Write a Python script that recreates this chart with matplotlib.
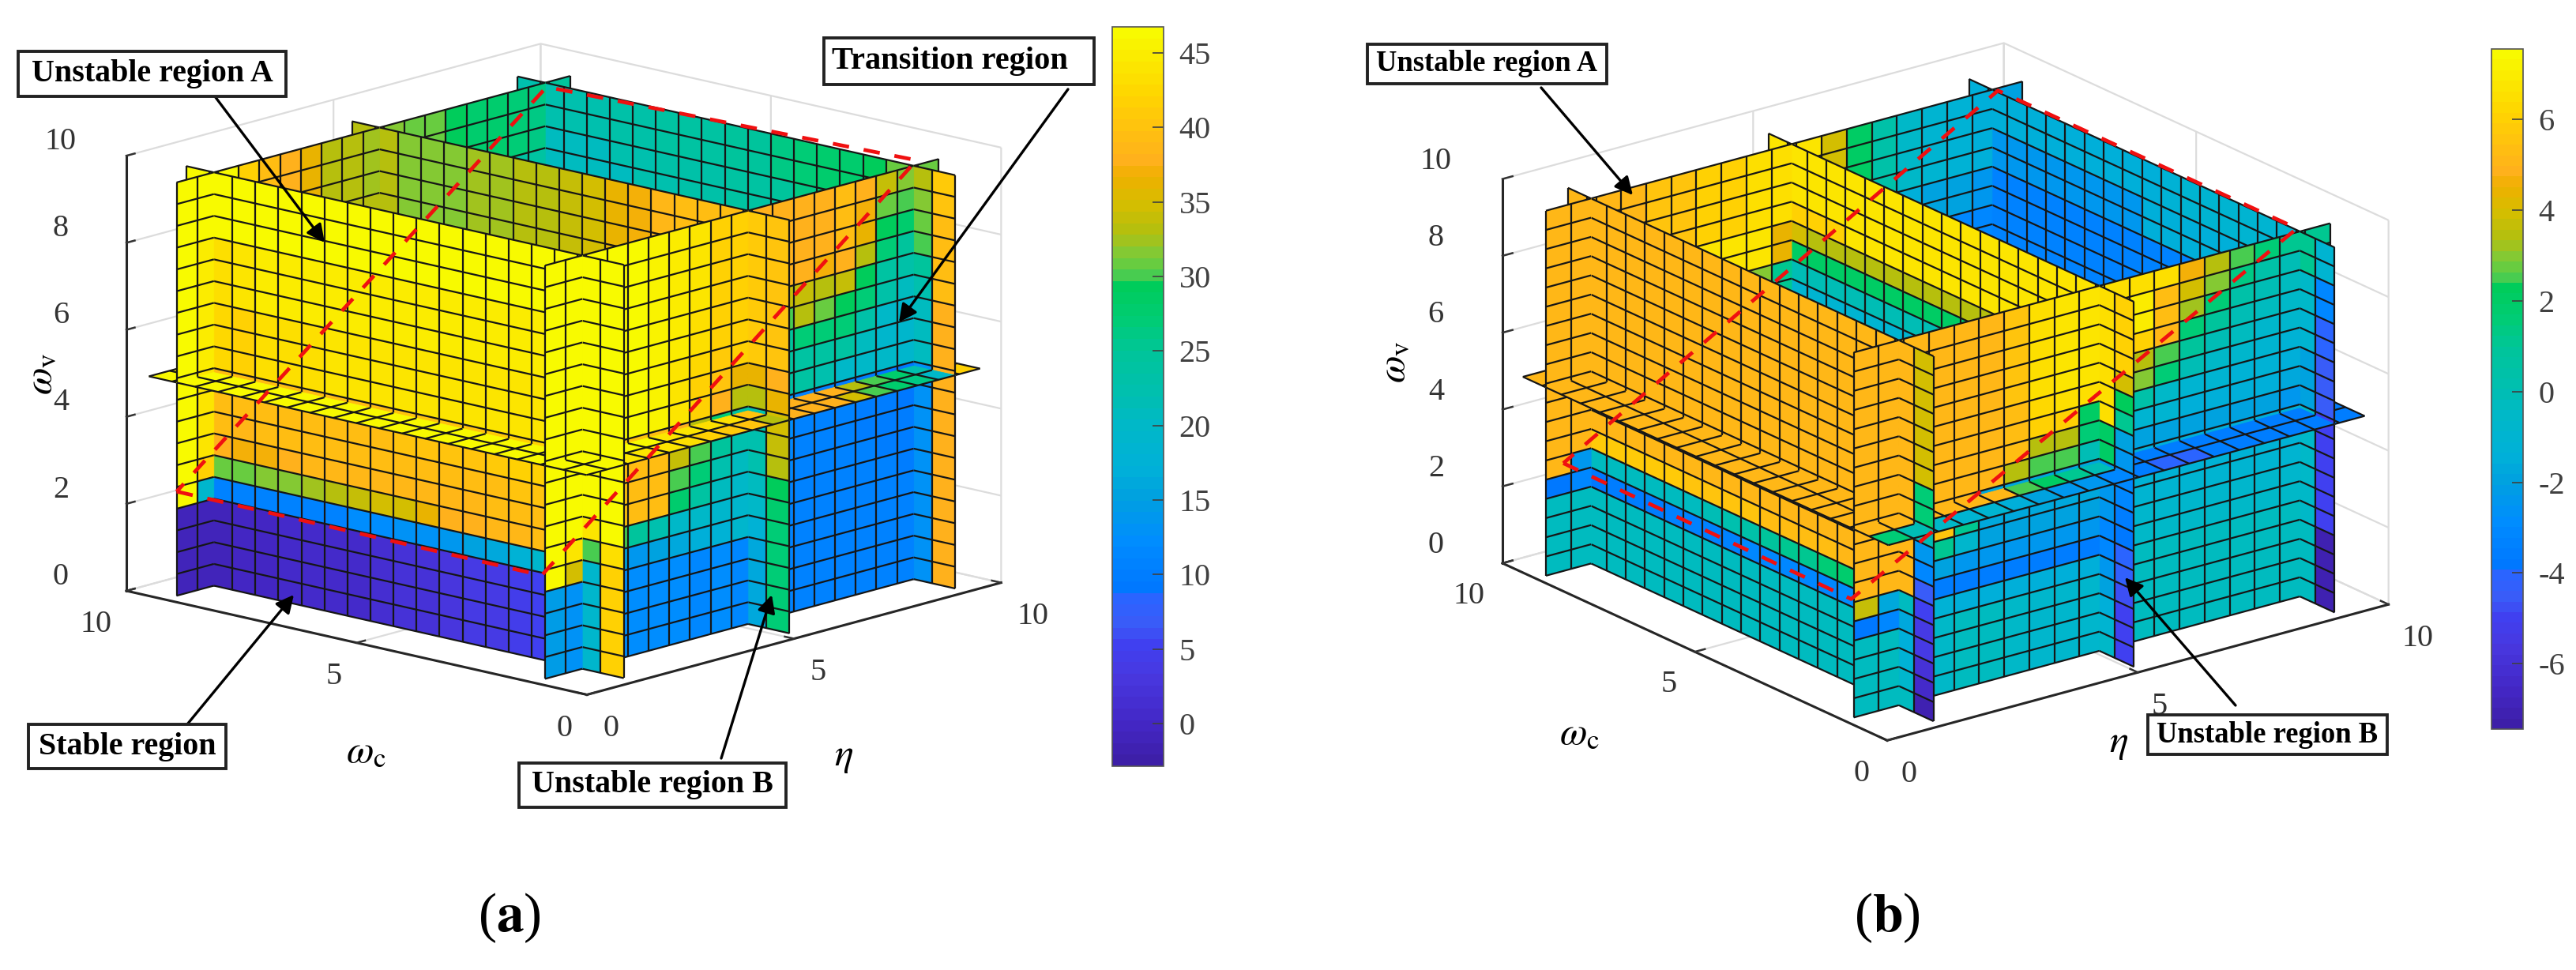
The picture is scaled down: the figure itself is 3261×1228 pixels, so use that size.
import numpy as np
import matplotlib
matplotlib.use('Agg')
import matplotlib.pyplot as plt
from matplotlib.cm import ScalarMappable
from matplotlib.colors import LinearSegmentedColormap, Normalize
from matplotlib.patches import FancyArrowPatch, Rectangle
from mpl_toolkits.mplot3d import proj3d
from mpl_toolkits.mplot3d.art3d import Poly3DCollection, Line3DCollection

plt.rcParams['font.family'] = ['Liberation Serif', 'DejaVu Serif']
plt.rcParams['mathtext.fontset'] = 'stix'

W, H = 3262, 1228

# grid of the slices and the plane positions
GRID = [0.1 + 0.5 * k for k in range(20)]
ETA_PLANES = [1, 5, 9]
WC_PLANES = [1, 9]
WV_PLANE = 5

# colour bar: value, colour
BAR_VALUES = [-2.85, 0, 3, 5, 6.5, 8.25, 8.3, 9, 12, 15, 17, 20, 22, 25, 27, 29.9, 30, 30.2,
              31, 32, 33, 35, 37, 38, 40, 42.5, 46.74]
BAR_COLORS = ['#3d1fa8', '#4428c8', '#4838e0', '#4040f0', '#3a5cf8', '#2a64ff', '#0078ff', '#0078ff',
              '#008cff', '#00a0e0', '#00b0d8', '#00b8c8', '#00bfb0', '#00c59a', '#00cc77', '#00cc55',
              '#48cc50', '#48cc50', '#68cc40', '#8cc830', '#b0bf10', '#d4be00', '#f0b000', '#ffb01c',
              '#ffc010', '#ffd500', '#f8fa00']

# panel (a): rows are omega_v cells from the bottom, columns the other axis
A_ETA1 = [[42, 19, 6.5, 5.5, 4.5, 4, 3.5, 3, 2.5, 2, 1.5, 1, 1, .5, .5, 0, 0, -1, -1]] * 4 + [
    [42, 19, 20, 19, 18, 16, 15, 14, 13, 13, 12, 12, 11, 11, 11, 11, 11, 11, 11],
    [43, 30, 39, 39, 38.5, 38.5, 38, 37.5, 36, 35, 34.5, 34, 33, 32.5, 32, 31.5, 31, 31, 31],
    [46, 44, 40, 39.5, 39, 39, 38.5, 38.5, 38.5, 38.5, 38.5, 38.5, 38.5, 38.5, 38, 37, 37, 38, 40],
    [46, 46, 41, 40.5, 40, 39.5, 39, 39, 39, 39, 39, 39, 39, 39, 39, 39, 38.5, 39, 41]] + [
    [46, 46, 42, 42, 41.5, 41, 40.5, 40, 40, 40, 39.5, 39.5, 39, 39, 39, 39, 39, 39, 41]] * 2 + [
    [46, 46, 44, 44, 44, 44, 44, 44, 44, 44, 44, 44, 44, 43.5, 43.5, 43, 42, 42.5, 42.5]] * 3 + [
    [46, 46, 46, 45, 45, 45, 45, 45, 45, 45, 45, 45, 45, 45, 45, 44.5, 44, 43.5, 44]] * 3 + [
    [46] * 19] * 3
A_ETA5 = [[27, 16] + [20] * 17] * 4 + [
    [27, 18] + [20] * 17,
    [28, 20] + [20] * 17,
    [29, 21] + [20] * 17,
    [33, 22] + [20] * 17,
    [34, 22] + [20] * 17,
    [35, 22] + [20] * 17,
    [36, 33] + [20] * 17,
    [38, 36] + [20] * 17,
    [40, 41] + [30] * 17,
    [40, 41, 39, 39, 39, 38, 36, 35, 34, 33, 33, 32, 32, 31, 30.5, 30.5, 31, 32, 33],
    [40, 41, 39, 39, 39, 38, 36, 35, 34, 33.5, 33, 32.5, 32.5, 32, 31, 31, 32, 32.5, 33]] + [
    [40, 41, 39, 39, 39, 38.5, 37, 36, 35, 34, 33.5, 33, 32.5, 32.5, 32, 32, 32, 33, 33.5]] * 4
A_ETA9 = [[38, 13] + [20] * 17] * 10 + [[38, 21] + [20] * 17] * 3 + [
    [39, 22, 29, 28, 27, 26, 25, 24, 24, 23, 23, 22, 22, 21, 21, 20, 20, 20, 20],
    [39, 25, 29, 28, 27, 26, 25, 24, 24, 23, 23, 22, 22, 21, 21, 20, 20, 20, 20],
    [39, 30, 30, 29, 28, 27, 26, 25, 24, 24, 23, 23, 22, 22, 21, 21, 21, 21, 21],
    [39, 30.5, 30, 29, 28, 27, 26, 25, 24, 24, 23, 23, 23, 22, 22, 21, 21, 21, 21],
    [40, 32, 31, 29, 28, 28, 27, 26, 25, 25, 24, 24, 24, 23, 23, 22, 22, 22, 22],
    [41, 33, 31, 29, 28, 28, 27, 26, 25, 25, 24, 24, 24, 23, 23, 22, 22, 22, 22]]
A_WC1 = [[14.5, 13, 12, 12, 12.5, 12, 12, 11.5, 12, 11.5, 11, 11, 10.5, 10.5, 10.5, 10.5, 10.5, 10.5, 13]] * 4 + [
    [46, 35, 15, 15, 14, 15, 16, 17, 18, 19, 12, 11, 11, 10.5, 10.5, 10.5, 10.5, 10.5, 13],
    [46, 44, 30, 30, 25, 22, 20, 20, 19, 19, 12, 11, 11, 10.5, 10.5, 10.5, 10.5, 10, 13],
    [46, 46, 39, 40, 39, 39, 28, 24, 21, 20, 13, 11.5, 11, 10.5, 10.5, 10.5, 10, 10, 13],
    [46, 46, 39, 40, 39, 39, 30, 27, 22, 21, 13, 11.5, 11, 10.5, 10.5, 10, 10, 10, 13],
    [46, 46, 40, 40, 39, 39, 34, 30, 25, 22, 14, 12, 11, 10.5, 10.5, 10, 10, 9.5, 13],
    [46, 46, 42, 41, 40, 39, 38, 33, 27, 24, 15, 12, 11, 10.5, 10, 10, 9.5, 9.5, 13],
    [46, 46, 46, 46, 46, 45.5, 44, 42, 38, 33, 34, 24, 24, 22, 20, 20, 20, 19, 20],
    [46, 46, 46, 46, 46, 45.5, 44, 42, 40, 36, 35, 24, 24, 24, 24, 21, 19, 19, 20],
    [46, 46, 46, 46, 46, 45.5, 44, 42.5, 41, 42, 38, 25, 27, 27, 27, 23, 20, 19, 20],
    [46, 46, 46, 46, 46, 45.5, 44.5, 43, 41.5, 42, 38, 30, 33, 31, 29, 27, 23, 21, 20],
    [46, 46, 46, 46, 46, 45.5, 44.5, 43, 42, 42, 38, 34, 34, 33, 34, 29, 24, 23, 22],
    [46, 46, 46, 46, 46, 45.5, 45, 44, 42, 42, 38, 38, 38, 37, 38, 33, 27, 25, 24],
    [46, 46, 46, 46, 46, 45.5, 45, 44, 42, 42, 38, 38, 38, 38, 39, 36, 29, 28, 27],
    [46, 46, 46, 46, 46, 45.5, 45, 44, 42, 42, 38, 38, 38, 38, 39, 37, 31, 30, 29],
    [46, 46, 46, 46, 46, 45.5, 45, 44, 42, 42, 38, 38, 38, 38, 39, 38, 34, 32, 31]]
A_WC9 = [[-1, -1] + [0] * 17] * 4 + [
    [46, 19] + [20] * 17,
    [46, 42] + [30] * 17] + [
    [46, 44] + [33] * 17] * 4 + [
    [46, 45, 44, 41, 39, 38, 36, 33, 33, 32, 30, 28, 26, 25, 24, 24, 23, 23, 23]] * 4 + [
    [46, 45, 45, 42, 39, 39, 36, 33, 33, 33, 32, 30, 29, 27, 26, 25, 24, 24, 24]] * 2 + [
    [46, 46, 46, 42, 39, 37.5, 36, 33.5, 33, 32.5, 32, 31, 31, 29, 28, 27.5, 27, 26, 25]] * 3
A_WV5 = [
    [46, 46, 44, 44, 44, 43, 42, 41, 40, 33, 38, 38, 38, 35, 30, 28, 26, 20, 42],
    [46, 46, 46, 46, 46, 44, 44, 43, 43, 40, 38, 38, 38, 38, 33, 30, 28, 22, 42]] + [
    [46, 46, 44, 44, 44, 44, 44, 44, 44, 44, 44, 44, 44, 44, 44, 44, 44, 44, 41]] * 17

# panel (b)
B_ETA1 = [
    [-7, -.4] + [-.3] * 17,
    [-6.5, -.8] + [-.3] * 17,
    [-6, -1.2] + [-.3] * 17,
    [-5.5, -1.5] + [-.3] * 17,
    [-5.5, -1.8, -2.6, -2.8, -2.8, -3, -3, -3, -3.2, -3.2, -3.3, -3.3, -3.4, -3.4, -3.5, -3.5, -3.6, -3.7, -3.7],
    [-5, -.3, 2, 2, 1.8, 1.5, 1.2, 1, .8, .5, .2, 0, -.2, -.3, -.3, -.3, -.3, -.3, -.3],
    [-4.5, 5, 5.2, 5.2, 5.2, 5.3, 5.3, 5.4, 5.4, 5.5, 5.5, 5.6, 5.6, 5.7, 5.7, 5.8, 5.8, 5.9, 5.9],
    [-3, 5] + [5] * 17,
    [-2.5, 5] + [5] * 17,
    [0, 5] + [5] * 17,
    [1.5, 5] + [5] * 17,
    [1.5, 5] + [5] * 17] + [
    [4, 5] + [5] * 17] * 7
B_ETA5 = [
    [-5, -.5] + [-1] * 17,
    [-5, -1] + [-1] * 17,
    [-5, -1.5] + [-1] * 17,
    [-4.7, -2] + [-1] * 17,
    [-4.3, -2.5] + [-1] * 17,
    [-4, -3] + [-1] * 17,
    [-3.8, -3] + [-1] * 17,
    [-3.5, -2.5] + [-1] * 17,
    [-3.2, -2.5] + [-1] * 17,
    [-3, -2.5] + [-1] * 17,
    [-2.5, 2] + [-1] * 17,
    [-2, 2] + [-1] * 17,
    [1, 6.5] + [0] * 17,
    [2.3, 6.5] + [2] * 17,
    [4, 6.5] + [3.5] * 15 + [4, 4],
    [6, 6.5] + [6.8] * 13 + [6] * 4] + [
    [6, 6.5] + [6.8] * 17] * 3
B_ETA9 = [[-7, -.3] + [-3.3] * 17] * 4 + [[-5, -.5] + [-3.3] * 17] * 6 + [
    [-4.5, -2] + [-3.3] * 17] * 3 + [
    [-4, -1] + [-3.3] * 17] * 2 + [
    [-3, -.5] + [-1.5] * 8 + [-2.5] * 9] * 2 + [
    [-1, 1, -1, -1, -1, -1, -1, -1, -1.2, -1.5, -1.5, -1.5, -1.5, -1.5, -1.5, -1.5, -1.5, -1.5, -1.5]] * 2
B_WC1 = [[-.3, -.3, -.5, -.5, -.3, -.4, -.6, -.8, -.8, -.8, -.3, -.3, -.3, -.3, -.3, -.3, -.3, -.3, -.3]] * 4 + [
    [-3.7, -3, -2, -1.2, -1.5, -1.5, -1.5, -1.5, -1.5, -1.5, -.3, -.3, -.3, -.3, -.3, -.3, -.3, -.3, -.3],
    [3.8, -1.7, -2, -3.5, -3.5, -3.5, -3.5, -3.5, -3.5, -3.5, -.5, -.5, -.5, -.5, -.5, -.5, -.5, -.5, -.5],
    [5, 5, 5, -2, -2.5, -2.5, -2.5, -2.5, -2.5, -2.5, -.7, -.7, -.7, -.7, -.7, -.7, -.7, -.7, -.7],
    [5, 5, 5, 1.2, -.8, -2, -2, -2, -2, -2, -1, -1, -1, -1, -1, -1, -1, -1, -1],
    [5, 5, 5, 5.5, 1, -1.8, -1.8, -1.8, -1.8, -1.8, -1.2, -1.2, -1.2, -1.2, -1.2, -1.2, -1.2, -1.2, -1.2],
    [5, 5, 5, 5, 5, -1.8, -1.8, -1.8, -1.8, -1.8, -1.5, -1.5, -1.5, -1.5, -1.5, -1.5, -1.5, -1.5, -1.5],
    [5, 5, 5, 5, 5, 5, 3.5, 2.5, 2.5, 0, -2, -2, -2, -2, -2, -2, -2, -2.5, -2.5],
    [5, 5, 5, 5, 5, 5, 5.3, 3.5, 3.5, 1.5, -1, -1, -1, -1.5, -1.5, -1.5, -1.5, -1.7, -2],
    [5, 5, 5, 5, 5, 5, 5.3, 6, 6, 2, .5, .5, -.5, -1, -1, -1.2, -1.3, -1.5, -2],
    [5, 5, 5, 5, 5, 5, 5.3, 6.3, 6.5, 6.5, 3, 3, 1.5, 0, -.5, -.8, -1, -1.2, -1.5],
    [5, 5, 5, 5, 5, 5, 5.5, 6.5, 6.7, 6.7, 3.5, 3.5, 2.5, .8, 0, -.3, -.7, -.8, -1],
    [5, 5, 5, 5, 5, 5, 5.6, 6.5, 6.8, 6.8, 6, 6, 5, 1.5, .8, 0, -.3, -.5, -.5],
    [5, 5, 5, 5, 5, 5, 5.6, 6.5, 6.8, 6.8, 7, 7, 5.3, 3.3, 1.5, .5, 0, -.2, -.2],
    [5, 5, 5, 5, 5, 5, 5.6, 6.5, 6.8, 6.8, 7, 7, 5.3, 4, 3, 1.3, .5, 0, 0],
    [5, 5, 5, 5, 5, 5, 5.6, 6.5, 6.8, 6.8, 6.5, 6.5, 6.5, 4.7, 3.5, 2.5, 1.5, 1, 1]]
B_WC9 = [[-.3, -.3] + [-1] * 17] * 4 + [
    [-3.7, -3] + [-1] * 17,
    [5, -2.5] + [-1] * 17] + [
    [5, 5] + [5] * 4 + [-1] * 13] * 4 + [
    [5, 5, 5, 5.3, 6.5, 6.8, 6.8, 5, 3, 1, -.5, -3, -3, -3, -3, -3, -3, -3, -3]] * 3 + [
    [5, 5, 5, 5.3, 6.5, 6.8, 6.8, 6.8, 6.8, 4.5, 3, 1.5, .5, -.5, -1.5, -2, -2, -2.5, -2.5]] * 2 + [
    [5, 5, 5, 5, 5.5, 5.5, 6, 6, 6.5, 6.5, 6.8, 4, 2, .5, -.5, -1, -1.2, -1.5, -2]] * 4
B_WV5 = [
    [1.5, 0, -.5, -1, -1, -1.5, -2, -2.5, -2.5, -3, -3.5, -4, -4, -3.5, -3.5, -3.5, -3.5, -3.5, -3.5],
    [5, 5, 5, 5, 5, 5, 2.5, 2, 1, 0, -3.5, -3.5, -3.5, -3.5, -3.5, -3.5, -3.5, -3.5, -3.5]] + [
    [5, 5, 5, 5, 5, 5, 5, 5, 5, 5, -3.5, -3.5, -3.5, -3.5, -3.5, -3.5, -3.5, -3.5, -3.5]] * 17

# red dashed boundary: eta, omega_c, omega_v
A_RED_ETA = [.77, .02, 9.07, 9.7, .77]
A_RED_WC = [9.6, 1, 1, 9.6, 9.6]
A_RED_WV = [2.18, 2.5, 9.71, 9.18, 2.18]
B_RED_ETA = [.83, .05, 8.94, 9.5, .83]
B_RED_WC = [9.5, 1, 1, 9.5, 9.5]
B_RED_WV = [2.54, 3.2, 9.7, 9.17, 2.54]

A_LIMITS = (-2.85, 46.74)
B_LIMITS = (-7.44, 7.55)
A_TICKS = [0, 5, 10, 15, 20, 25, 30, 35, 40, 45]
B_TICKS = [-6, -4, -2, 0, 2, 4, 6]
XY_TICKS = [0, 5, 10]
Z_TICKS = [0, 2, 4, 6, 8, 10]

fracs = [(v - BAR_VALUES[0]) / (BAR_VALUES[-1] - BAR_VALUES[0]) for v in BAR_VALUES]
cmap = LinearSegmentedColormap.from_list('bar', list(zip(fracs, BAR_COLORS)), N=64)


def fx(px):
    return px / W


def fy(py):
    return 1 - py / H


def wall(ax, axis, pos, vals, u_rng, v_rng, norm, zo):
    # one flat piece of a slice, cut to the range between the other planes
    def xyz(u, v):
        if axis == 'x':
            return (pos, u, v)
        if axis == 'y':
            return (u, pos, v)
        return (u, v, pos)

    polys, colors = [], []
    for j in range(len(GRID) - 1):
        v0, v1 = max(GRID[j], v_rng[0]), min(GRID[j + 1], v_rng[1])
        if v1 <= v0:
            continue
        for i in range(len(GRID) - 1):
            u0, u1 = max(GRID[i], u_rng[0]), min(GRID[i + 1], u_rng[1])
            if u1 <= u0:
                continue
            polys.append([xyz(u0, v0), xyz(u1, v0), xyz(u1, v1), xyz(u0, v1)])
            colors.append(cmap(norm(vals[j][i])))
    segs = []
    for g in GRID:
        if u_rng[0] <= g <= u_rng[1]:
            segs.append([xyz(g, v_rng[0]), xyz(g, v_rng[1])])
        if v_rng[0] <= g <= v_rng[1]:
            segs.append([xyz(u_rng[0], g), xyz(u_rng[1], g)])
    ax.add_collection3d(Poly3DCollection(polys, facecolors=colors, edgecolors=colors,
                                         linewidths=0.3, zorder=zo))
    if segs:
        ax.add_collection3d(Line3DCollection(segs, colors='#161616', linewidths=0.8, zorder=zo + 0.5))


def draw_slices(ax, planes, limits):
    norm = Normalize(*limits)
    lo, hi = GRID[0], GRID[-1]
    xs = [lo] + ETA_PLANES + [hi]
    ys = [lo] + WC_PLANES + [hi]
    zs = [lo, WV_PLANE, hi]
    zo = 10
    # blocks from far to near, each block paints its three far walls
    for ix in reversed(range(len(xs) - 1)):
        for iy in reversed(range(len(ys) - 1)):
            for iz in range(len(zs) - 1):
                x_rng, y_rng, z_rng = xs[ix:ix + 2], ys[iy:iy + 2], zs[iz:iz + 2]
                if ix < len(ETA_PLANES):
                    wall(ax, 'x', xs[ix + 1], planes['eta'][ix], y_rng, z_rng, norm, zo)
                    zo += 1
                if iy < len(WC_PLANES):
                    wall(ax, 'y', ys[iy + 1], planes['wc'][iy], x_rng, z_rng, norm, zo)
                    zo += 1
                if iz == 1:
                    wall(ax, 'z', WV_PLANE, planes['wv'], x_rng, y_rng, norm, zo)
                    zo += 1


def corner_px(ax, x, y, z):
    vx, vy, _ = proj3d.proj_transform(x, y, z, ax.get_proj())
    return ax.transData.transform((vx, vy))


def place(ax, left_px, front_px):
    # size and shift the square 3d axes so two box corners land on the wanted pixels
    size = 1200.0
    ax.set_position([0.1, 0.1, size / W, size / H])
    ax.apply_aspect()
    p0, p1 = corner_px(ax, 0, 10, 0), corner_px(ax, 0, 0, 0)
    size *= (front_px[0] - left_px[0]) / (p1[0] - p0[0])
    ax.set_position([0.1, 0.1, size / W, size / H])
    ax.apply_aspect()
    p0 = corner_px(ax, 0, 10, 0)
    ax.set_position([0.1 + (left_px[0] - p0[0]) / W, 0.1 + (H - left_px[1] - p0[1]) / H, size / W, size / H])
    ax.apply_aspect()


def style_axes(ax, pads):
    ax.set_xlim(0, 10)
    ax.set_ylim(0, 10)
    ax.set_zlim(0, 10)
    ax.set_xticks(XY_TICKS)
    ax.set_yticks(XY_TICKS)
    ax.set_zticks(Z_TICKS)
    ax.patch.set_alpha(0)
    for name, axis, pad in zip('xyz', (ax.xaxis, ax.yaxis, ax.zaxis), pads):
        axis.set_pane_color((1, 1, 1, 0))
        axis.pane.set_edgecolor('#dcdcdc')
        axis.line.set_color('#262626')
        axis.line.set_linewidth(1.1)
        axis._axinfo['grid'].update(color='#dcdcdc', linewidth=0.8)
        axis._axinfo['tick'].update(inward_factor=0.0, outward_factor=0.25)
        axis._axinfo['tick']['linewidth'] = {True: 0.9, False: 0.9}
        ax.tick_params(axis=name, labelsize=14.5, pad=pad, colors='#333333')
    ax.zaxis.set_ticks_position('upper')
    # eta numbers sit right of their ticks, omega_c numbers left
    plt.setp(ax.get_xticklabels(), ha='left')
    plt.setp(ax.get_yticklabels(), ha='right')
    plt.setp(ax.get_zticklabels(), va='bottom')


def colorbar(fig, box, limits, ticks):
    left, top, right, bottom = box
    cax = fig.add_axes([fx(left), fy(bottom), fx(right - left), (bottom - top) / H])
    sm = ScalarMappable(norm=Normalize(*limits), cmap=cmap)
    cb = fig.colorbar(sm, cax=cax, ticks=ticks)
    cb.ax.tick_params(direction='in', length=5, width=0.6, labelsize=14.5, colors='#404040', pad=7)
    cb.outline.set_linewidth(0.6)
    cb.outline.set_edgecolor('#555555')
    cb.ax.set_yticklabels([str(t) for t in ticks])


def callout(fig, label, box, size, start, end, shift=0):
    left, top, right, bottom = box
    fig.add_artist(FancyArrowPatch((fx(start[0]), fy(start[1])), (fx(end[0]), fy(end[1])),
                                   transform=fig.transFigure, arrowstyle='-|>', mutation_scale=17,
                                   color='black', linewidth=1.2, shrinkA=0, shrinkB=0, zorder=28))
    fig.add_artist(Rectangle((fx(left), fy(bottom)), (right - left) / W, (bottom - top) / H,
                             transform=fig.transFigure, facecolor='white', edgecolor='#222222',
                             linewidth=1.4, zorder=29))
    fig.text(fx((left + right) / 2 + shift), fy((top + bottom) / 2), label, fontsize=size, fontweight='bold',
             ha='center', va='center', color='black', zorder=30)


fig = plt.figure(figsize=(W / 200, H / 200), dpi=200)

ax_a = fig.add_axes([0.05, 0.1, 0.4, 0.8], projection='3d', computed_zorder=False)
ax_a.set_proj_type('ortho')
ax_a.view_init(elev=14.3, azim=-137.6)
ax_a.set_box_aspect((0.985, 1, 0.72))
draw_slices(ax_a, {'eta': [A_ETA1, A_ETA5, A_ETA9], 'wc': [A_WC1, A_WC9], 'wv': A_WV5}, A_LIMITS)
ax_a.plot(A_RED_ETA, A_RED_WC, A_RED_WV, color='#f01010', linewidth=1.7, dashes=(4.4, 4), zorder=1000)
style_axes(ax_a, (0, 0, 9))
place(ax_a, (160, 748), (743, 880))

ax_b = fig.add_axes([0.55, 0.1, 0.4, 0.8], projection='3d', computed_zorder=False)
ax_b.set_proj_type('ortho')
ax_b.view_init(elev=20.7, azim=-127.5)
ax_b.set_box_aspect((1, 1, 0.65))
draw_slices(ax_b, {'eta': [B_ETA1, B_ETA5, B_ETA9], 'wc': [B_WC1, B_WC9], 'wv': B_WV5}, B_LIMITS)
ax_b.plot(B_RED_ETA, B_RED_WC, B_RED_WV, color='#f01010', linewidth=1.7, dashes=(4.4, 4), zorder=1000)
style_axes(ax_b, (0, 0, 9))
place(ax_b, (1902, 713), (2389, 937))

colorbar(fig, (1408, 34, 1473, 970), A_LIMITS, A_TICKS)
colorbar(fig, (3154, 62, 3194, 923), B_LIMITS, B_TICKS)

callout(fig, 'Unstable region A', (23, 65, 362, 122), 14.4, (272, 122), (411, 307))
callout(fig, 'Transition region', (1043, 48, 1385, 107), 14.6, (1352, 113), (1138, 408), shift=-11)
callout(fig, 'Stable region', (36, 917, 286, 973), 14.4, (237, 917), (372, 753))
callout(fig, 'Unstable region B', (657, 966, 995, 1022), 14.4, (913, 960), (977, 753))
callout(fig, 'Unstable region A', (1731, 56, 2034, 106), 13.2, (1951, 111), (2067, 247))
callout(fig, 'Unstable region B', (2719, 905, 3022, 955), 13.2, (2830, 893), (2690, 731))

fig.text(fx(52), fy(474), r'$\omega_{\mathrm{v}}$', fontsize=18, rotation=90, ha='center', va='center')
fig.text(fx(463), fy(952), r'$\omega_{\mathrm{c}}$', fontsize=18, ha='center', va='center')
fig.text(fx(1068), fy(958), r'$\eta$', fontsize=18, ha='center', va='center')
fig.text(fx(1765), fy(459), r'$\omega_{\mathrm{v}}$', fontsize=18, rotation=90, ha='center', va='center')
fig.text(fx(1999), fy(929), r'$\omega_{\mathrm{c}}$', fontsize=18, ha='center', va='center')
fig.text(fx(2682), fy(941), r'$\eta$', fontsize=18, ha='center', va='center')

fig.text(fx(645), fy(1162), r'($\mathbf{a}$)', fontsize=25, ha='center', va='center')
fig.text(fx(2389), fy(1162), r'($\mathbf{b}$)', fontsize=25, ha='center', va='center')

fig.savefig('out.png', dpi=200)
